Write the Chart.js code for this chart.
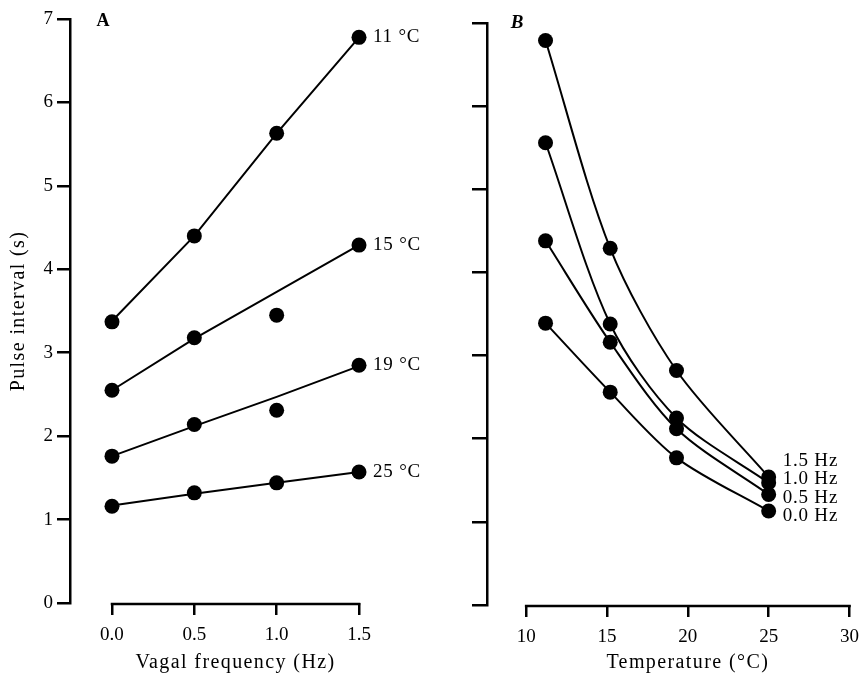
<!DOCTYPE html>
<html>
<head>
<meta charset="utf-8">
<script src="https://cdn.jsdelivr.net/npm/chart.js@4"></script>
<style>
  html, body { margin: 0; padding: 0; background: #fff; }
  #wrap { position: relative; width: 868px; height: 678px; }
  canvas { position: absolute; top: 0; }
  #chartA { left: 0; }
  #chartB { left: 440px; }
</style>
</head>
<body>
<div id="wrap">
  <canvas id="chartA" width="440" height="678"></canvas>
  <canvas id="chartB" width="428" height="678"></canvas>
</div>
<script>
// Panel A: pulse interval against vagal frequency, one line per temperature
const vagalFreq = [0.0, 0.5, 1.0, 1.5];
const tempNames = ["11 °C", "15 °C", "19 °C", "25 °C"];
const interval11C = [3.37, 4.40, 5.63, 6.78];
const interval15C = [2.55, 3.18, 3.45, 4.29];
const interval19C = [1.76, 2.14, 2.31, 2.85];
const interval25C = [1.16, 1.32, 1.44, 1.57];
// drawn lines, read at each frequency
const fit11C = [3.38, 4.40, 5.63, 6.78];
const fit15C = [2.55, 3.17, 3.73, 4.29];
const fit19C = [1.76, 2.12, 2.47, 2.84];
const fit25C = [1.17, 1.31, 1.44, 1.57];

// Panel B: pulse interval against temperature, one curve per frequency
const temperature = [11.2, 15.2, 19.3, 25.0];
const freqNames = ["1.5 Hz", "1.0 Hz", "0.5 Hz", "0.0 Hz"];
const interval15Hz = [6.79, 4.29, 2.82, 1.54];
const interval10Hz = [5.56, 3.38, 2.25, 1.47];
const interval05Hz = [4.38, 3.16, 2.12, 1.33];
const interval00Hz = [3.39, 2.56, 1.77, 1.13];

// Tick labels
const intervalTicks = [0, 1, 2, 3, 4, 5, 6, 7];
const freqTicks = [0.0, 0.5, 1.0, 1.5];
const tempTicks = [10, 15, 20, 25, 30];

const SERIF = "'Liberation Serif', 'DejaVu Serif', serif";

function toPoints(xs, ys) {
    return xs.map((x, i) => ({ x: x, y: ys[i] }));
}

function dotSet(xs, ys) {
    return {
        data: toPoints(xs, ys),
        showLine: false,
        pointRadius: 7.5,
        pointHoverRadius: 7.5,
        pointBackgroundColor: "#000",
        pointBorderWidth: 0,
        clip: false,
    };
}

function lineSet(xs, ys, curved) {
    return {
        data: toPoints(xs, ys),
        showLine: true,
        pointRadius: curved ? 7.5 : 0,
        pointBackgroundColor: "#000",
        pointBorderWidth: 0,
        borderColor: "#000",
        borderWidth: 2,
        tension: curved ? 0.3 : 0,
        clip: false,
    };
}

// axis line over the tick range, axis titles, panel letter and series labels
function decor(opts) {
    return {
        id: "decor",
        afterDraw(chart) {
            const ctx = chart.ctx;
            const xs = chart.scales.x;
            const ys = chart.scales.y;
            const area = chart.chartArea;
            const xt = opts.xTicks;
            const x0 = xs.getPixelForValue(xt[0]);
            const x1 = xs.getPixelForValue(xt[xt.length - 1]);
            ctx.save();
            ctx.fillStyle = "#000";
            ctx.strokeStyle = "#000";
            ctx.lineWidth = 2.5;
            ctx.beginPath();
            ctx.moveTo(x0 - 1.25, area.bottom + 1);
            ctx.lineTo(x1 + 1.25, area.bottom + 1);
            ctx.stroke();

            ctx.letterSpacing = "1.4px";
            ctx.font = "20px " + SERIF;
            ctx.textAlign = "center";
            ctx.textBaseline = "middle";
            ctx.fillText(opts.xTitle, (x0 + x1) / 2, 663);
            if (opts.yTitle) {
                ctx.save();
                ctx.translate(19, (area.top + area.bottom) / 2);
                ctx.rotate(-Math.PI / 2);
                ctx.fillText(opts.yTitle, 0, 0);
                ctx.restore();
            }

            ctx.letterSpacing = "0px";
            ctx.font = opts.letterFont + " " + SERIF;
            ctx.fillText(opts.letter, opts.letterX, opts.letterY);

            ctx.letterSpacing = "0.8px";
            ctx.font = "19px " + SERIF;
            ctx.textAlign = "left";
            opts.labels(ctx, xs, ys);
            ctx.restore();
        },
    };
}

function baseScales(xMin, xMax, xTickList, xFmt, yWidth, xHeight, yTickLen, showYLabels) {
    return {
        x: {
            type: "linear",
            min: xMin,
            max: xMax,
            afterFit: (s) => { s.height = xHeight; },
            afterBuildTicks: (s) => { s.ticks = xTickList.map((v) => ({ value: v })); },
            border: { display: false },
            grid: { drawOnChartArea: false, color: "#000", lineWidth: 2.5, tickLength: 12 },
            ticks: { color: "#000", padding: 9, font: { family: SERIF, size: 19 }, callback: xFmt },
        },
        y: {
            type: "linear",
            min: 0,
            max: 7,
            afterFit: (s) => { s.width = yWidth; },
            afterBuildTicks: (s) => { s.ticks = intervalTicks.map((v) => ({ value: v })); },
            border: { display: true, color: "#000", width: 2.5 },
            grid: { drawOnChartArea: false, color: "#000", lineWidth: 2.5, tickLength: yTickLen },
            ticks: {
                color: "#000",
                padding: 4,
                font: { family: SERIF, size: 19 },
                callback: (v) => (showYLabels ? String(v) : ""),
            },
        },
    };
}

const commonOptions = {
    responsive: false,
    animation: false,
    plugins: { legend: { display: false }, tooltip: { enabled: false } },
    events: [],
};

// Panel A
const seriesA = [interval11C, interval15C, interval19C, interval25C];
const fitsA = [fit11C, fit15C, fit19C, fit25C];

new Chart(document.getElementById("chartA").getContext("2d"), {
    type: "scatter",
    data: {
        datasets: fitsA.map((f) => lineSet(vagalFreq, f, false))
            .concat(seriesA.map((s) => dotSet(vagalFreq, s))),
    },
    options: Object.assign({}, commonOptions, {
        layout: { padding: { left: 0, top: 19, right: 81, bottom: 0 } },
        scales: baseScales(-0.255, 1.5, freqTicks, (v) => v.toFixed(1), 70, 75, 13, true),
    }),
    plugins: [decor({
        xTicks: freqTicks,
        xTitle: "Vagal frequency (Hz)",
        yTitle: "Pulse interval (s)",
        letter: "A",
        letterFont: "bold 18px",
        letterX: 103,
        letterY: 21,
        labels: (ctx, xs, ys) => {
            const last = vagalFreq.length - 1;
            seriesA.forEach((s, i) => {
                ctx.fillText(tempNames[i], xs.getPixelForValue(vagalFreq[last]) + 14, ys.getPixelForValue(s[last]));
            });
        },
    })],
});

// Panel B
const seriesB = [interval15Hz, interval10Hz, interval05Hz, interval00Hz];

new Chart(document.getElementById("chartB").getContext("2d"), {
    type: "scatter",
    data: {
        datasets: seriesB.map((s) => lineSet(temperature, s, true)),
    },
    options: Object.assign({}, commonOptions, {
        layout: { padding: { left: 0, top: 23, right: 11, bottom: 0 } },
        scales: baseScales(7.58, 30, tempTicks, (v) => String(v), 47, 73, 15, false),
    }),
    plugins: [decor({
        xTicks: tempTicks,
        xTitle: "Temperature (°C)",
        yTitle: null,
        letter: "B",
        letterFont: "italic bold 19px",
        letterX: 77,
        letterY: 23,
        labels: (ctx, xs, ys) => {
            const last = temperature.length - 1;
            const lx = xs.getPixelForValue(temperature[last]) + 14;
            const bottomY = ys.getPixelForValue(interval00Hz[last]) + 5;
            freqNames.forEach((name, i) => {
                ctx.fillText(name, lx, bottomY - (freqNames.length - 1 - i) * 18.3);
            });
        },
    })],
});
</script>
</body>
</html>
